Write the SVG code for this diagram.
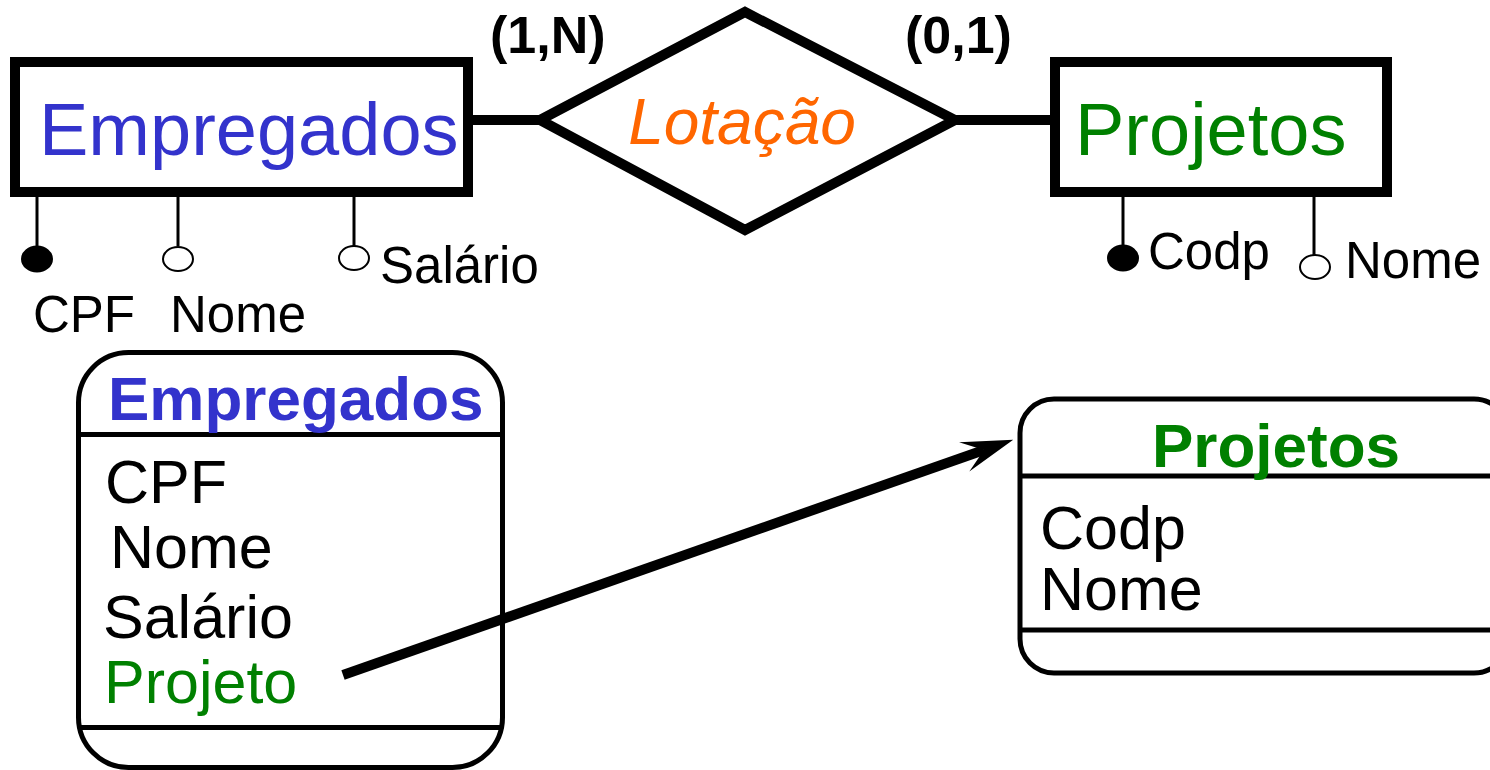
<svg xmlns="http://www.w3.org/2000/svg" width="1490" height="770" viewBox="0 0 1490 770">
<style>
text{font-family:"Liberation Sans",Arial,Helvetica,sans-serif;}
.ent{fill:#fff;stroke:#000;stroke-width:10;}
.rel{fill:#fff;stroke:#000;stroke-width:10;stroke-linejoin:miter;}
.conn{stroke:#000;stroke-width:10;fill:none;}
.att{stroke:#000;stroke-width:3;fill:none;}
.key{fill:#000;stroke:#000;stroke-width:2;}
.opt{fill:#fff;stroke:#000;stroke-width:2;}
.cls{fill:#fff;stroke:#000;stroke-width:5;}
.sep{stroke:#000;stroke-width:5;}
.big{font-size:74px;}
.card{font-size:52px;font-weight:bold;fill:#000;}
.lbl{font-size:51px;fill:#000;}
.hdr{font-size:62px;font-weight:bold;}
.row{font-size:61px;fill:#000;}
.blue{fill:#3333cc;}
.green{fill:#008000;}
</style>
<defs>
<marker id="stealth" markerUnits="userSpaceOnUse" orient="auto" refX="0" refY="0" markerWidth="60" markerHeight="40" overflow="visible">
<path d="M31,0 L-21,-15.5 L0,0 L-21,15.5 Z" fill="#000"/>
</marker>
</defs>

<g id="er-empregados">
<rect class="ent" x="15" y="62" width="453" height="130"/>
<text class="big blue" x="39" y="155">Empregados</text>
</g>

<g id="er-lotacao">
<polygon class="rel" points="540,120 745,12 955,120 745,230"/>
<text x="742" y="144" font-size="64" font-style="italic" fill="#ff6600" text-anchor="middle">Lotação</text>
</g>

<g id="card-1N"><text class="card" x="490" y="53">(1,N)</text></g>
<g id="card-01"><text class="card" x="905" y="53">(0,1)</text></g>

<g id="er-projetos">
<rect class="ent" x="1055" y="62" width="332" height="130"/>
<text class="big green" x="1075" y="155">Projetos</text>
</g>

<g id="attr-cpf">
<line class="att" x1="37" y1="197" x2="37" y2="246"/>
<ellipse class="key" cx="37" cy="259" rx="15" ry="12.5"/>
<text class="lbl" x="33" y="332">CPF</text>
</g>
<g id="attr-nome">
<line class="att" x1="178" y1="197" x2="178" y2="246"/>
<ellipse class="opt" cx="178" cy="259" rx="15" ry="12"/>
<text class="lbl" x="170" y="332">Nome</text>
</g>
<g id="attr-salario">
<line class="att" x1="354" y1="197" x2="354" y2="246"/>
<ellipse class="opt" cx="354" cy="258" rx="15" ry="12"/>
<text class="lbl" x="380" y="283">Salário</text>
</g>
<g id="attr-codp">
<line class="att" x1="1123" y1="197" x2="1123" y2="246"/>
<ellipse class="key" cx="1123" cy="258" rx="15" ry="12.5"/>
<text class="lbl" x="1148" y="269">Codp</text>
</g>
<g id="attr-pnome">
<line class="att" x1="1314" y1="197" x2="1314" y2="255"/>
<ellipse class="opt" cx="1315" cy="267" rx="15" ry="12"/>
<text class="lbl" x="1345" y="278">Nome</text>
</g>

<g id="cls-empregados">
<rect class="cls" x="78.5" y="352.5" width="424" height="415" rx="50" ry="50"/>
<line class="sep" x1="78.5" y1="434.5" x2="502.5" y2="434.5"/>
<line class="sep" x1="78.5" y1="727.5" x2="502.5" y2="727.5"/>
<text class="hdr blue" x="108" y="420">Empregados</text>
<text class="row" x="105" y="503">CPF</text>
<text class="row" x="110" y="568">Nome</text>
<text class="row" x="103" y="638">Salário</text>
<text class="row green" x="104" y="703">Projeto</text>
</g>

<g id="cls-projetos">
<rect class="cls" x="1020" y="399" width="488" height="274" rx="34" ry="34"/>
<line class="sep" x1="1020" y1="476" x2="1508" y2="476"/>
<line class="sep" x1="1020" y1="630" x2="1508" y2="630"/>
<text class="hdr green" x="1152" y="467">Projetos</text>
<text class="row" x="1040" y="549" font-size="60">Codp</text>
<text class="row" x="1040" y="610" font-size="60">Nome</text>
</g>

<g id="connectors">
<line class="conn" x1="470" y1="120" x2="542" y2="120"/>
<line class="conn" x1="953" y1="120" x2="1054" y2="120"/>
<line class="conn" x1="343" y1="675" x2="984" y2="450" marker-end="url(#stealth)"/>
</g>
</svg>
